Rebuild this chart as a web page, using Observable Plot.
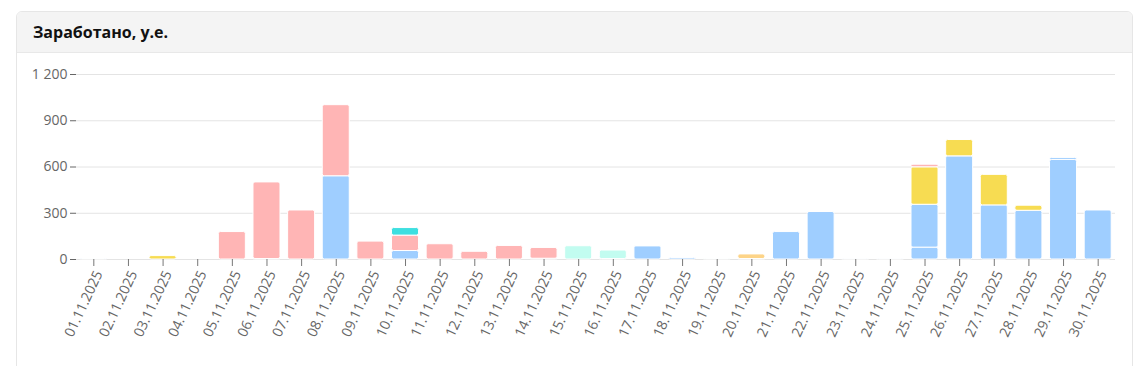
<!DOCTYPE html>
<html>
<head>
<meta charset="utf-8">
<script src="https://cdn.jsdelivr.net/npm/d3@7"></script>
<script src="https://cdn.jsdelivr.net/npm/@observablehq/plot@0.6"></script>
<style>
  html, body { margin: 0; padding: 0; background: #fff; width: 1143px; height: 366px; overflow: hidden; font-family: "Open Sans", sans-serif; }
  #card { position: absolute; left: 16px; top: 11px; width: 1115px; height: 420px; border: 1px solid #e6e6e6; border-radius: 6px; box-sizing: content-box; overflow: hidden; }
  #header { height: 40px; background: #f4f4f4; border-bottom: 1px solid #e8e8e8; box-sizing: content-box; }
  #title { position: absolute; left: 16px; top: 9px; font-size: 16px; font-weight: 700; color: #111; }
  #chart { position: absolute; left: 0; top: 52px; }
</style>
</head>
<body>
<div id="card"><div id="header"><div id="title">Заработано, у.е.</div></div></div>
<div id="chart"></div>
<script>
const dates = ["01.11.2025","02.11.2025","03.11.2025","04.11.2025","05.11.2025","06.11.2025","07.11.2025","08.11.2025","09.11.2025","10.11.2025",
               "11.11.2025","12.11.2025","13.11.2025","14.11.2025","15.11.2025","16.11.2025","17.11.2025","18.11.2025","19.11.2025","20.11.2025",
               "21.11.2025","22.11.2025","23.11.2025","24.11.2025","25.11.2025","26.11.2025","27.11.2025","28.11.2025","29.11.2025","30.11.2025"];

// series values per day (stack order bottom → top)
const blueA  = [3,0,0,0,0,3,0,540,0,55, 0,0,0,5,0,3,86,10,0,0, 178,308,2,2,77,669,351,316,646,318];
const blueB  = [0,0,0,0,0,0,0,0,0,0, 0,0,0,0,0,0,0,0,0,0, 0,0,0,0,278,0,0,0,13,0];
const mint   = [0,0,0,0,0,0,0,0,0,0, 0,0,0,0,86,55,3,0,3,3, 0,4,0,0,0,0,0,0,0,0];
const orange = [0,0,0,0,0,0,0,0,0,0, 0,0,0,0,0,0,0,0,0,30, 0,0,0,0,0,0,0,0,0,0];
const yellow = [0,0,22,0,0,0,0,0,0,0, 0,0,0,0,0,0,0,0,0,0, 0,0,0,0,243,106,198,33,0,0];
const pink   = [0,0,0,0,178,497,318,461,116,100, 99,50,88,70,0,0,0,0,0,0, 0,0,0,0,17,0,0,0,0,0];
const cyan   = [0,0,0,0,0,0,0,0,0,49, 0,0,0,0,0,0,0,0,0,0, 0,0,0,0,0,0,0,0,0,0];

const seriesNames  = ["A","B","C","D","E","F","G"];
const seriesColors = ["#9fceff","#9fceff","#c2fcf0","#fdd488","#f7dc52","#ffb5b5","#3ddfe0"];
const seriesValues = [blueA, blueB, mint, orange, yellow, pink, cyan];

const yTicks = [0, 300, 600, 900, 1200];

const rows = [];
seriesNames.forEach((s, i) => {
  dates.forEach((d, j) => {
    const v = seriesValues[i][j];
    if (v > 0) rows.push({date: d, series: s, value: v});
  });
});

const fmt = d => d3.format(",")(d).replace(/,/g, "\u00a0");

const chart = Plot.plot({
  width: 1143,
  height: 314,
  marginLeft: 76,
  marginRight: 28,
  marginTop: 22,
  marginBottom: 107,
  style: {fontFamily: "'Open Sans', sans-serif", fontSize: "14px", color: "#666", background: "transparent", overflow: "visible"},
  x: {domain: dates, paddingInner: 0.22, paddingOuter: 0.11, round: false, label: null},
  y: {domain: [0, 1200], ticks: yTicks, tickFormat: fmt, label: null, tickSize: 6},
  color: {domain: seriesNames, range: seriesColors},
  marks: [
    Plot.ruleY(yTicks, {stroke: "#e4e4e4", strokeWidth: 1}),
    Plot.barY(rows, {x: "date", y: "value", fill: "series", stroke: "#fff", strokeWidth: 1, rx: 2}),
    Plot.axisX({tickSize: 7, tickFormat: () => "", stroke: "#777"}),
    Plot.axisX({tickSize: 0, tickPadding: 10, tickRotate: -65, dx: 5, dy: 2, fill: "#666"})
  ]
});
document.getElementById("chart").appendChild(chart);
</script>
</body>
</html>
